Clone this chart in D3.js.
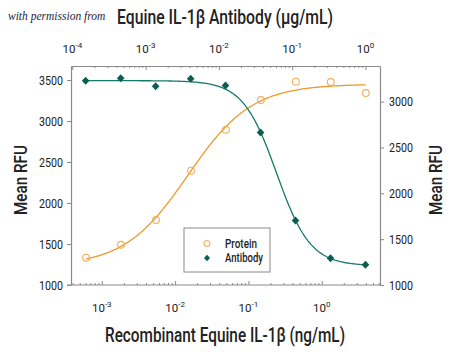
<!DOCTYPE html>
<html><head><meta charset="utf-8">
<script src="https://cdn.jsdelivr.net/npm/d3@7/dist/d3.min.js"></script>
<style>
body{margin:0;background:#fff;}
svg{display:block;}
text{font-family:Roboto,"Liberation Sans",sans-serif;fill:#222;}
</style></head><body>
<svg id="c" width="450" height="352"></svg>
<script>
// ---- data ----
const antibodyConc = [0.000152, 0.000457, 0.00137, 0.00412, 0.0123, 0.037, 0.111, 0.333, 1];   // μg/mL (top axis)
const antibodyRFU  = [3226, 3255, 3167, 3248, 3175, 2664, 1703, 1292, 1222];
const proteinConc  = [0.00061, 0.00183, 0.00549, 0.0165, 0.0494, 0.148, 0.444, 1.33, 4];      // ng/mL (bottom axis)
const proteinRFU   = [1333, 1491, 1793, 2394, 2894, 3256, 3480, 3476, 3341];
// 4-parameter logistic fit parameters [bottom, top, mid, hill]
const proteinFit  = [1230, 3450, 0.015, 1.0];
const antibodyFit = [1210, 3228, 0.0613, 1.89];
const leftTicks  = [1000, 1500, 2000, 2500, 3000, 3500];
const rightTicks = [1000, 1500, 2000, 2500, 3000];
const topTicks    = [-4, -3, -2, -1, 0];
const bottomTicks = [-3, -2, -1, 0];
const legendLabels = ["Protein", "Antibody"];

const svg = d3.select("#c");
const L = 71, R = 380, T = 66, B = 285;
const xB = d3.scaleLog().domain([Math.pow(10,-3.42), Math.pow(10,0.795)]).range([L, R]);
const xT = d3.scaleLog().domain([Math.pow(10,-4.018), Math.pow(10,0.198)]).range([L, R]);
const yL = d3.scaleLinear().domain([1000, 3671]).range([B, T]);
const yR = d3.scaleLinear().domain([1000, 3388]).range([B, T]);

const axisCol = "#8a8a8a";
const orange = "#f0982a", orangeLight = "#f3ad5e", teal = "#17796b", tealDark = "#0b5e52";

function minorVals(scale){
  const [a,b] = scale.domain(); const out=[];
  for(let e=Math.floor(Math.log10(a)); e<=Math.ceil(Math.log10(b)); e++)
    for(let m=2;m<=9;m++){const v=m*Math.pow(10,e); if(v>=a&&v<=b) out.push(v);}
  return out;
}
function styleAxis(g){ g.select(".domain").attr("stroke",axisCol).attr("stroke-width",1.2); g.selectAll(".tick line").attr("stroke",axisCol); }

// top axis
const gTop = svg.append("g").attr("transform",`translate(0,${T})`);
gTop.call(d3.axisTop(xT).tickValues(topTicks.map(e=>Math.pow(10,e))).tickSizeInner(-4).tickSizeOuter(0).tickFormat(()=>""));
styleAxis(gTop);
const gTopMin = svg.append("g").attr("transform",`translate(0,${T})`);
gTopMin.call(d3.axisTop(xT).tickValues(minorVals(xT)).tickSizeInner(-2).tickSizeOuter(0).tickFormat(()=>""));
gTopMin.select(".domain").remove(); gTopMin.selectAll(".tick line").attr("stroke",axisCol);

// bottom axis
const gBot = svg.append("g").attr("transform",`translate(0,${B})`);
gBot.call(d3.axisBottom(xB).tickValues(bottomTicks.map(e=>Math.pow(10,e))).tickSizeInner(-4).tickSizeOuter(0).tickFormat(()=>""));
styleAxis(gBot);
gBot.select(".domain").attr("d",`M${L-4},0H${R}`);
const gBotMin = svg.append("g").attr("transform",`translate(0,${B})`);
gBotMin.call(d3.axisBottom(xB).tickValues(minorVals(xB)).tickSizeInner(-2).tickSizeOuter(0).tickFormat(()=>""));
gBotMin.select(".domain").remove(); gBotMin.selectAll(".tick line").attr("stroke",axisCol);

// left axis
const gL = svg.append("g").attr("transform",`translate(${L},0)`);
gL.call(d3.axisLeft(yL).tickValues(leftTicks).tickSizeInner(4).tickSizeOuter(0).tickFormat(()=>""));
styleAxis(gL);
// right axis
const gR = svg.append("g").attr("transform",`translate(${R},0)`);
gR.call(d3.axisRight(yR).tickValues(rightTicks).tickSizeInner(4).tickSizeOuter(0).tickFormat(()=>""));
styleAxis(gR);

// tick labels
const fs = 12.5;
function num(x,y,v,anchor){
  svg.append("text").attr("x",x).attr("y",y).attr("text-anchor",anchor).attr("font-size",fs)
    .attr("textLength",24).attr("lengthAdjust","spacingAndGlyphs").text(v);
}
leftTicks.forEach(v=>num(63,yL(v)+4.5,v,"end"));
rightTicks.forEach(v=>num(389,yR(v)+4.5,v,"start"));
function powLabel(x,y,e){
  const t = svg.append("text").attr("x",x).attr("y",y).attr("text-anchor","middle").attr("font-size",fs);
  t.append("tspan").attr("font-size",11.5).text("10");
  t.append("tspan").attr("dy",-5).attr("font-size",8).text(String(e));
}
topTicks.forEach(e=>powLabel(xT(Math.pow(10,e)),53,e));
bottomTicks.forEach(e=>powLabel(xB(Math.pow(10,e)),312,e));

// titles
svg.append("text").attr("x",8).attr("y",20).attr("font-size",11.5).attr("font-style","italic")
  .style("font-family","'Liberation Serif','DejaVu Serif',serif").style("fill","#1b2440").text("with permission from");
svg.append("text").attr("x",225).attr("y",24).attr("text-anchor","middle").attr("font-size",19.5).attr("font-weight",500)
  .attr("textLength",216).attr("lengthAdjust","spacingAndGlyphs").text("Equine IL-1β Antibody (μg/mL)");
svg.append("text").attr("x",225).attr("y",342).attr("text-anchor","middle").attr("font-size",19.5).attr("font-weight",500)
  .attr("textLength",240).attr("lengthAdjust","spacingAndGlyphs").text("Recombinant Equine IL-1β (ng/mL)");
svg.append("text").attr("transform","translate(27,180) rotate(-90)").attr("text-anchor","middle").attr("font-size",18).attr("font-weight",500)
  .attr("textLength",70).attr("lengthAdjust","spacingAndGlyphs").text("Mean RFU");
svg.append("text").attr("transform","translate(442,180) rotate(-90)").attr("text-anchor","middle").attr("font-size",18).attr("font-weight",500)
  .attr("textLength",70).attr("lengthAdjust","spacingAndGlyphs").text("Mean RFU");

// fitted curves
function logistic(p){ return x => p[0] + (p[1]-p[0]) / (1 + Math.pow(p[2]/x, p[3])); }
function logisticDown(p){ return x => p[0] + (p[1]-p[0]) / (1 + Math.pow(x/p[2], p[3])); }
const fP = logistic(proteinFit), fA = logisticDown(antibodyFit);
const nS = 200;
const pSamp = d3.range(nS+1).map(i=>Math.exp(Math.log(proteinConc[0]) + i/nS*(Math.log(proteinConc[8])-Math.log(proteinConc[0]))));
const aSamp = d3.range(nS+1).map(i=>Math.exp(Math.log(antibodyConc[0]) + i/nS*(Math.log(antibodyConc[8])-Math.log(antibodyConc[0]))));
svg.append("path").attr("fill","none").attr("stroke",orange).attr("stroke-width",1.3)
  .attr("d", d3.line().x(d=>xB(d)).y(d=>yL(fP(d)))(pSamp));
svg.append("path").attr("fill","none").attr("stroke",teal).attr("stroke-width",1.3)
  .attr("d", d3.line().x(d=>xT(d)).y(d=>yR(fA(d)))(aSamp));

// points
svg.append("g").selectAll("circle").data(proteinConc).join("circle")
  .attr("cx",(d)=>xB(d)).attr("cy",(d,i)=>yL(proteinRFU[i])).attr("r",3.4)
  .attr("fill","none").attr("stroke",orangeLight).attr("stroke-width",1.1);
const dia = "M0,-4L3.8,0L0,4L-3.8,0Z";
svg.append("g").selectAll("path").data(antibodyConc).join("path")
  .attr("transform",(d,i)=>`translate(${xT(d)},${yR(antibodyRFU[i])})`).attr("d",dia).attr("fill",tealDark);

// legend
const lg = svg.append("g");
lg.append("rect").attr("x",184).attr("y",228).attr("width",86).attr("height",44).attr("fill","#fff").attr("stroke","#8a8a8a").attr("stroke-width",1);
lg.append("circle").attr("cx",207).attr("cy",243.5).attr("r",3).attr("fill","#fff").attr("stroke",orangeLight).attr("stroke-width",1.1);
lg.append("path").attr("transform","translate(207,258) scale(0.8)").attr("d",dia).attr("fill",tealDark);
lg.append("text").attr("x",225).attr("y",247.5).attr("font-size",12).attr("font-weight",500)
  .attr("textLength",32).attr("lengthAdjust","spacingAndGlyphs").text(legendLabels[0]);
lg.append("text").attr("x",225).attr("y",262).attr("font-size",12).attr("font-weight",500)
  .attr("textLength",38).attr("lengthAdjust","spacingAndGlyphs").text(legendLabels[1]);
</script>
</body></html>
